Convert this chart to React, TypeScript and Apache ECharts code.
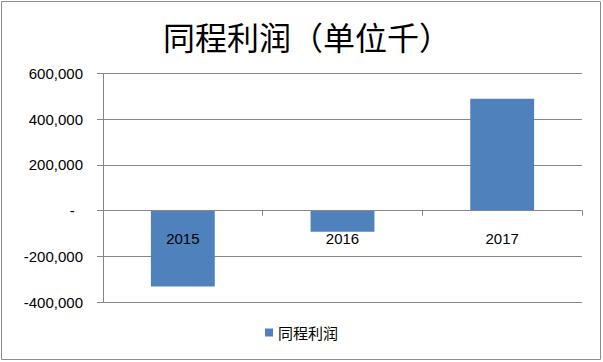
import React, { useEffect, useRef } from "react";
import * as echarts from "echarts";

const categories = ["2015", "2016", "2017"];
const profitValues = [-332000, -93000, 489000];
const seriesName = "同程利润";
const titleText = "同程利润（单位千）";

export default function App() {
  const ref = useRef<HTMLDivElement>(null);
  useEffect(() => {
    if (!ref.current) return;
    const chart = echarts.init(ref.current, null, { renderer: "svg" });
    const axisColor = "#868686";
    chart.setOption({
      animation: false,
      backgroundColor: "#ffffff",
      title: {
        text: titleText,
        left: 302,
        textAlign: "center",
        top: 15,
        textStyle: {
          fontFamily: "Noto Sans CJK SC",
          fontSize: 32,
          fontWeight: "normal",
          color: "#000",
        },
      },
      graphic: [
        {
          type: "rect",
          shape: { x: 1.5, y: 1.5, width: 599, height: 358 },
          style: { fill: "none", stroke: "#8c8c8c", lineWidth: 1 },
          silent: true,
        },
      ],
      legend: {
        bottom: 17,
        left: "center",
        icon: "rect",
        itemWidth: 8,
        itemHeight: 8,
        itemGap: 10,
        textStyle: {
          fontFamily: "Noto Sans CJK SC",
          fontSize: 15,
          color: "#000",
        },
        data: [seriesName],
      },
      grid: { left: 103, right: 21, top: 73.5, bottom: 60, containLabel: false },
      xAxis: {
        type: "category",
        data: categories,
        z: 5,
        axisLine: { onZero: true, lineStyle: { color: axisColor } },
        axisTick: { show: true, length: 5, lineStyle: { color: axisColor } },
        axisLabel: {
          margin: -71,
          fontFamily: "Liberation Sans",
          fontSize: 15,
          color: "#000",
        },
      },
      yAxis: {
        type: "value",
        min: -400000,
        max: 600000,
        interval: 200000,
        axisLine: { show: true, lineStyle: { color: axisColor } },
        axisTick: { show: true, length: 6, lineStyle: { color: axisColor } },
        splitLine: { lineStyle: { color: axisColor } },
        axisLabel: {
          margin: 20,
          fontFamily: "Liberation Sans",
          fontSize: 15,
          color: "#000",
          formatter: (v: number) =>
            v === 0 ? "-  " : v.toLocaleString("en-US"),
        },
      },
      series: [
        {
          name: seriesName,
          type: "bar",
          data: profitValues,
          barWidth: "40%",
          itemStyle: { color: "#4F81BD" },
        },
      ],
    });
    return () => chart.dispose();
  }, []);
  return (
    <div
      ref={ref}
      style={{ position: "fixed", left: 0, top: 0, width: 603, height: 362 }}
    />
  );
}
